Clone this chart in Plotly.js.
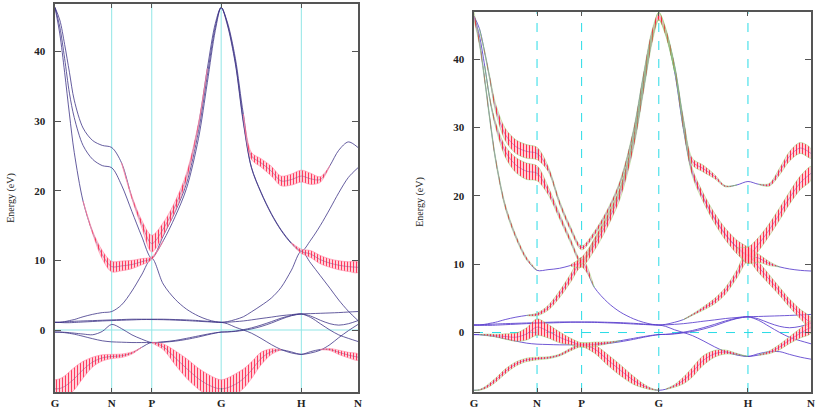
<!DOCTYPE html>
<html>
<head>
<meta charset="utf-8">
<script src="https://cdn.plot.ly/plotly-3.0.1.min.js"></script>
<style>
  html, body { margin: 0; padding: 0; background: #ffffff; }
  #chart { width: 818px; height: 414px; }
</style>
</head>
<body>
<div id="chart"></div>
<script>
// k-path sampling along G-N-P-G-H-N (units of 2*pi/a)
const kPath = [0, 0.06, 0.12, 0.18, 0.24, 0.35, 0.47, 0.59, 0.7071,
               0.83, 0.96, 1.08, 1.2071,
               1.35, 1.50, 1.64, 1.79, 1.90, 2.00, 2.0731,
               2.15, 2.25, 2.35, 2.45, 2.57, 2.70, 2.82, 2.95, 3.0731,
               3.19, 3.31, 3.43, 3.54, 3.66, 3.7802];
const kTicks = [0, 0.7071, 1.2071, 2.0731, 3.0731, 3.7802];
const kLabels = ['G', 'N', 'P', 'G', 'H', 'N'];
const energyTicks = [0, 10, 20, 30, 40];

// band energies (eV) at each kPath point
const band1 = [-8.45, -8.4, -8.1, -7.6, -7.0, -5.7, -4.6, -4.0, -3.8,
               -3.7, -3.3, -2.5, -1.8,
               -2.4, -4.0, -5.5, -7.0, -7.8, -8.3, -8.45,
               -8.3, -7.8, -7.0, -5.8, -4.1, -3.1, -2.85, -3.15, -3.5,
               -3.1, -2.8, -2.8, -3.2, -3.6, -3.9];
const band2 = [-0.3, -0.32, -0.38, -0.48, -0.6, -0.9, -1.25, -1.55, -1.7,
               -1.75, -1.8, -1.8, -1.8,
               -1.75, -1.6, -1.35, -1.0, -0.7, -0.45, -0.3,
               -0.28, -0.2, -0.05, 0.15, 0.5, 1.0, 1.55, 2.05, 2.3,
               2.35, 2.4, 2.45, 2.5, 2.58, 2.65];
const band3 = [-0.3, -0.3, -0.33, -0.38, -0.45, -0.58, -0.68, -0.2, 0.8,
               0.2, -0.7, -1.3, -1.8,
               -1.7, -1.5, -1.2, -0.85, -0.6, -0.4, -0.3,
               -0.26, -0.15, 0.05, 0.3, 0.7, 1.2, 1.7, 2.1, 2.3,
               2.0, 1.4, 0.9, 0.7, 0.9, 1.35];
const band4 = [1.1, 1.1, 1.15, 1.2, 1.25, 1.3, 1.35, 1.4, 1.45,
               1.5, 1.55, 1.55, 1.55,
               1.55, 1.5, 1.45, 1.35, 1.25, 1.15, 1.1,
               1.12, 1.2, 1.3, 1.45, 1.65, 1.85, 2.05, 2.2, 2.3,
               1.8, 0.9, 0.0, -0.7, -1.2, -1.65];
const band5 = [1.1, 1.08, 1.05, 1.05, 1.08, 1.15, 1.22, 1.3, 1.35,
               1.4, 1.45, 1.5, 1.5,
               1.48, 1.42, 1.35, 1.25, 1.18, 1.12, 1.1,
               1.2, 1.5, 1.9, 2.6, 3.5, 4.6, 6.1, 8.6, 11.3,
               9.6, 7.8, 6.0, 4.3, 2.7, 1.35];
const band6 = [1.1, 1.12, 1.2, 1.35, 1.5, 1.9, 2.25, 2.5, 2.65,
               3.6, 5.6, 7.9, 10.3,
               6.6, 4.4, 3.0, 2.0, 1.5, 1.2, 1.1,
               0.9, 0.4, 0.0, -0.45, -1.2, -2.1, -2.8, -3.3, -3.5,
               -3.3, -2.9, -2.1, -1.1, -0.1, 0.8];
const band7 = [46.3, 42.5, 37, 31, 25.5, 18.5, 14, 10.8, 9.1,
               9.2, 9.4, 9.8, 10.3,
               12.8, 16.3, 20.3, 27.5, 35.5, 43, 46.3,
               44, 38.5, 30, 23.4, 19.8, 16.7, 14.4, 12.5, 11.3,
               10.9, 10.1, 9.6, 9.3, 9.1, 9.0];
const band8 = [46.3, 43.5, 39, 34, 30.5, 26.5, 24.5, 23.6, 23.3,
               20.8, 17.0, 13.5, 10.3,
               13.5, 17, 21, 28.5, 36.5, 43.5, 46.3,
               43.8, 38.2, 29.7, 23.3, 19.7, 16.6, 14.3, 12.4, 11.3,
               12.9, 15.0, 17.4, 19.7, 21.9, 23.3];
const band9 = [46.3, 44.5, 41, 37, 33, 29, 27.2, 26.5, 26.2,
               24.0, 19.0, 15.3, 12.4,
               14.5, 17.8, 22, 29.5, 37.5, 44, 46.3,
               44.2, 39, 31, 25.0, 24.0, 22.8, 21.4, 21.6, 22.1,
               21.7, 21.6, 23.6, 25.8, 27.0, 26.2];

// projected weights (half-width of the fat band, eV) - left panel
const wLeft1 = [1.3, 1.4, 1.5, 1.6, 1.6, 1.2, 0.7, 0.45, 0.3,
                0.25, 0.15, 0, 0,
                0.4, 1.0, 1.4, 1.5, 1.5, 1.4, 1.3,
                1.4, 1.5, 1.4, 1.2, 0.9, 0.4, 0, 0, 0,
                0, 0, 0.15, 0.3, 0.4, 0.45];
const wLeft7 = [0, 0, 0, 0, 0, 0, 0.2, 0.6, 0.75,
                0.7, 0.6, 0.45, 0.2,
                0, 0, 0, 0, 0, 0, 0,
                0, 0, 0, 0, 0, 0, 0, 0, 0.3,
                0.5, 0.6, 0.6, 0.65, 0.7, 0.75];
const wLeft9 = [0, 0, 0, 0, 0, 0, 0, 0, 0,
                0, 0.2, 0.5, 1.2,
                0.9, 0.7, 0.5, 0.2, 0, 0, 0,
                0, 0, 0, 0.5, 0.6, 0.7, 0.7, 0.8, 0.85,
                0.8, 0.4, 0, 0, 0, 0];

// projected weights - right panel
const wRight1 = [0, 0.05, 0.15, 0.25, 0.3, 0.35, 0.3, 0.25, 0.2,
                 0.15, 0.15, 0.2, 0.3,
                 0.6, 0.8, 0.8, 0.6, 0.3, 0.1, 0,
                 0, 0.2, 0.5, 0.7, 0.7, 0.5, 0.3, 0.1, 0,
                 0, 0, 0, 0, 0, 0];
const wRight3 = [0, 0, 0.1, 0.15, 0.2, 0.4, 0.6, 0.9, 1.2,
                 1.0, 0.8, 0.5, 0.3,
                 0.3, 0.15, 0, 0, 0, 0, 0,
                 0, 0, 0, 0, 0, 0, 0, 0, 0,
                 0, 0, 0, 0, 0, 0];
const wRight5 = [0, 0, 0, 0, 0, 0, 0, 0, 0,
                 0, 0, 0, 0,
                 0, 0, 0, 0, 0, 0, 0,
                 0, 0, 0, 0.1, 0.25, 0.4, 0.5, 0.6, 0.9,
                 0.8, 0.7, 0.6, 0.6, 0.7, 0.8];
const wRight6 = [0, 0, 0, 0, 0, 0, 0, 0, 0.2,
                 0.35, 0.5, 0.6, 0.7,
                 0, 0, 0, 0, 0, 0, 0,
                 0, 0, 0, 0, 0, 0, 0, 0, 0,
                 0, 0.2, 0.4, 0.5, 0.7, 0.9];
const wRight7 = [0.6, 0.4, 0.3, 0.3, 0.3, 0.3, 0.25, 0.2, 0,
                 0, 0, 0, 0.7,
                 0.8, 0.8, 0.7, 0.5, 0.4, 0.5, 0.6,
                 0.5, 0.3, 0.4, 0.55, 0.65, 0.75, 0.85, 1.0, 1.2,
                 0.6, 0.3, 0, 0, 0, 0];
const wRight8 = [0, 0, 0, 0.2, 0.4, 0.8, 1.1, 1.2, 1.1,
                 0.6, 0.4, 0.3, 0.3,
                 0.3, 0.3, 0.3, 0.3, 0.3, 0.4, 0.5,
                 0.3, 0, 0, 0, 0, 0, 0, 0, 1.2,
                 1.0, 0.9, 0.9, 0.9, 1.0, 1.0];
const wRight9 = [0, 0, 0.2, 0.3, 0.6, 0.9, 1.0, 1.0, 0.9,
                 0.4, 0.3, 0.3, 0.3,
                 0.3, 0.3, 0.3, 0.3, 0.3, 0.4, 0.5,
                 0.3, 0.2, 0.3, 0.5, 0.5, 0.3, 0.1, 0, 0,
                 0, 0.2, 0.5, 0.7, 0.8, 0.7];

const bands = [band1, band2, band3, band4, band5, band6, band7, band8, band9];
const fatLeft = [[band1, wLeft1], [band7, wLeft7], [band9, wLeft9]];
const fatRight = [[band1, wRight1], [band3, wRight3], [band5, wRight5], [band6, wRight6],
                  [band7, wRight7], [band8, wRight8], [band9, wRight9]];

// closed outline (E+w forward, E-w back) for every run of non-zero weight
function fatPolygons(energy, width) {
  const polys = [];
  const n = kPath.length;
  let i = 0;
  while (i < n) {
    if (width[i] > 0) {
      const s = i;
      while (i < n && width[i] > 0) i++;
      const e = i - 1;
      const a = Math.max(0, s - 1), b = Math.min(n - 1, e + 1);
      const xs = [], ys = [];
      for (let j = a; j <= b; j++) { xs.push(kPath[j]); ys.push(energy[j] + width[j]); }
      for (let j = b; j >= a; j--) { xs.push(kPath[j]); ys.push(energy[j] - width[j]); }
      polys.push([xs, ys]);
    } else {
      i++;
    }
  }
  return polys;
}

// symmetry-point verticals and the Fermi level, drawn under the bands
function guideTraces(xa, ya, color, dash, yRange) {
  const tr = [];
  kTicks.slice(1, -1).forEach(function (k) {
    tr.push({ x: [k, k], y: yRange, xaxis: xa, yaxis: ya, type: 'scatter', mode: 'lines',
              line: { color: color, width: 1, dash: dash }, hoverinfo: 'skip' });
  });
  tr.push({ x: [kTicks[0], kTicks[kTicks.length - 1]], y: [0, 0], xaxis: xa, yaxis: ya,
            type: 'scatter', mode: 'lines', line: { color: color, width: 1, dash: dash },
            hoverinfo: 'skip' });
  return tr;
}

function panelTraces(xa, ya, lineColor, fats, edgeColor, edgeWidth, hatchColor, hatchBg) {
  const traces = [];
  bands.forEach(function (e) {
    traces.push({
      x: kPath, y: e, xaxis: xa, yaxis: ya, type: 'scatter', mode: 'lines',
      line: { color: lineColor, width: 1, shape: 'spline', smoothing: 0.9 },
      hoverinfo: 'skip'
    });
  });
  fats.forEach(function (f) {
    fatPolygons(f[0], f[1]).forEach(function (p) {
      traces.push({
        x: p[0], y: p[1], xaxis: xa, yaxis: ya, type: 'scatter', mode: 'lines',
        fill: 'toself',
        fillcolor: hatchBg,
        fillpattern: { shape: '|', fgcolor: hatchColor, bgcolor: hatchBg, size: 3, solidity: 0.4 },
        line: { color: edgeColor, width: edgeWidth, shape: 'spline', smoothing: 0.9 },
        hoverinfo: 'skip'
      });
    });
  });
  return traces;
}

const leftRange = [-8.9, 46.8];
const rightRange = [-8.7, 46.9];

const traces = [].concat(
  guideTraces('x', 'y', '#90e6e6', 'solid', leftRange),
  guideTraces('x2', 'y2', '#28dbe6', 'dash', rightRange),
  panelTraces('x', 'y', 'rgba(62,52,135,0.8)', fatLeft,
              'rgba(255,130,160,0.8)', 0.7, 'rgba(255,30,70,0.85)', 'rgba(255,205,215,0.55)'),
  panelTraces('x2', 'y2', 'rgba(88,60,205,0.85)', fatRight,
              'rgba(120,215,90,0.65)', 0.6, 'rgba(255,20,50,0.85)', 'rgba(255,200,210,0.55)')
);

const tickFont = { family: 'Liberation Serif, DejaVu Serif, serif', size: 11, color: '#222', weight: 'bold' };
const titleFont = { family: 'Liberation Serif, DejaVu Serif, serif', size: 10, color: '#222' };

function xAxis(domain, anchor) {
  return {
    domain: domain, anchor: anchor, range: [0, 3.7802],
    tickmode: 'array', tickvals: kTicks, ticktext: kLabels,
    ticks: 'inside', ticklen: 4, tickcolor: '#555',
    showline: true, mirror: 'ticks', linecolor: '#555', linewidth: 1.6,
    showgrid: false, zeroline: false, tickfont: tickFont
  };
}
function yAxis(domain, anchor, range, standoff) {
  return {
    domain: domain, anchor: anchor, range: range,
    tickmode: 'array', tickvals: energyTicks,
    ticks: 'inside', ticklen: 6, tickcolor: '#555',
    showline: true, mirror: 'ticks', linecolor: '#555', linewidth: 1.6,
    showgrid: false, zeroline: false, tickfont: tickFont,
    ticklabelstandoff: 6,
    title: { text: 'Energy (eV)', font: titleFont, standoff: standoff }
  };
}

const layout = {
  width: 818, height: 414,
  margin: { l: 0, r: 0, t: 0, b: 0 },
  paper_bgcolor: '#ffffff', plot_bgcolor: '#ffffff',
  showlegend: false,
  xaxis: xAxis([55 / 818, 358 / 818], 'y'),
  yaxis: yAxis([22 / 414, 410 / 414], 'x', leftRange, 18),
  xaxis2: xAxis([474 / 818, 811 / 818], 'y2'),
  yaxis2: yAxis([22 / 414, 402 / 414], 'x2', rightRange, 28)
};

Plotly.newPlot('chart', traces, layout, { displayModeBar: false, staticPlot: true });
</script>
</body>
</html>
